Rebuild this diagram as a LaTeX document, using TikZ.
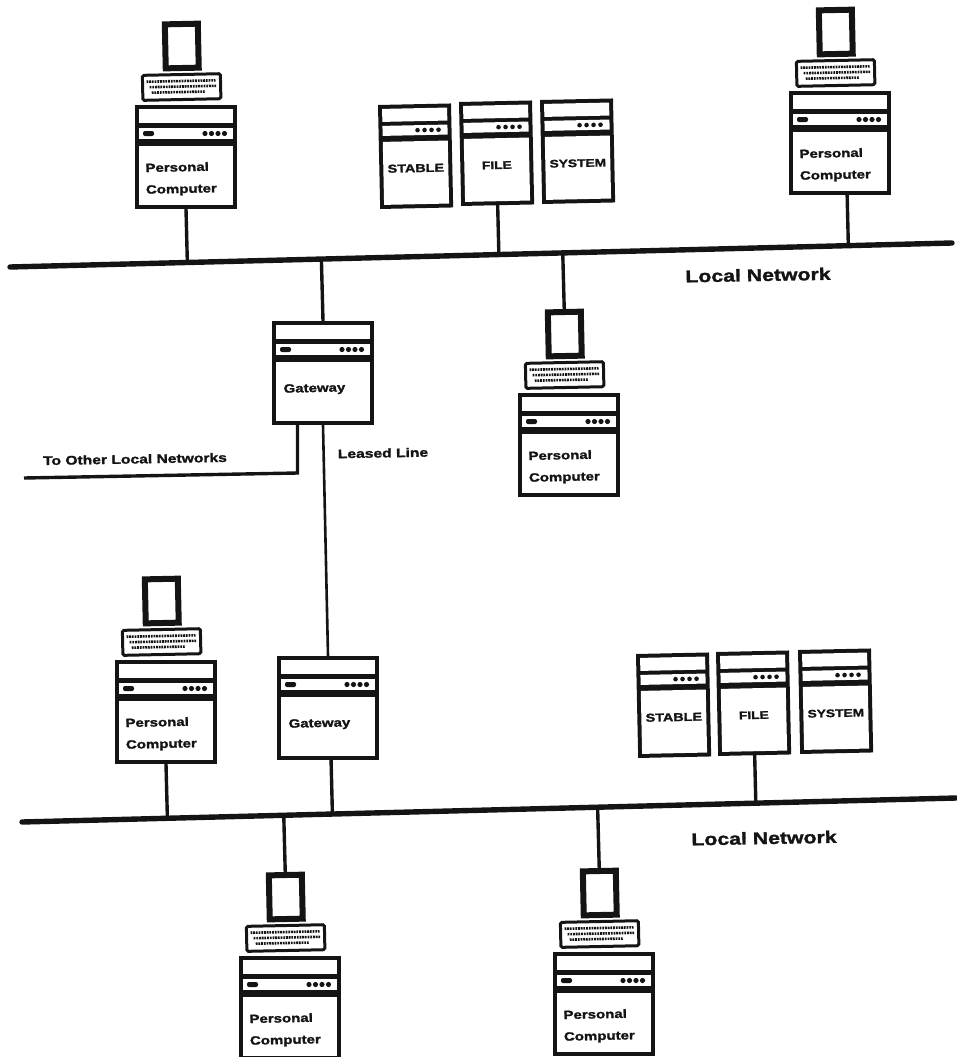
\documentclass[tikz,border=0pt]{standalone}
\usepackage{fontspec}
\usetikzlibrary{calc}
\setmainfont{Liberation Sans}
\newfontfamily\lblfont[FakeStretch=1.25,BoldFont={* Bold},BoldFeatures={FakeBold=1.6}]{Liberation Sans}
\newcommand{\lblsize}[1]{\fontsize{#1}{#1}\lblfont\bfseries}
\tikzset{
  x=1pt,y=-1pt,
  ink/.style={fill=black!92},
  panel/.style={fill=white},
  wire/.style={draw=black!92,line width=3.4pt},
  thinwire/.style={draw=black!92,line width=2.6pt},
  netline/.style={draw=black!92,line width=5.4pt,line cap=round},
  lbl/.style={inner sep=0pt,text=black!92,transform shape,font=\lblsize{#1}},
  caselabel/.style={lbl=12,anchor=west},
  freelabel/.style={inner sep=0pt,text=black!92,rotate=1,font=\lblsize{#1}},
  casebody/.style={rectangle,fill=black!92,inner sep=0pt,outer sep=0pt,anchor=north west,transform shape,minimum width=#1,minimum height=104},
  pics/frontunit/.style={code={
    \node[casebody=102] (base) at (0,0) {};
    \fill[panel] (4,4) rectangle (98,18);
    \fill[panel] (4,23) rectangle (98,34);
    \fill[panel] (4,41) rectangle (98,100);
    \fill[ink,rounded corners=2pt] (8,26) rectangle (19,31);
    \foreach \d in {70,76.5,83,89.5} \fill[ink] (\d,28.5) circle (2.6);
  }},
  pics/pcunit/.style={code={
    \pic {frontunit};
    \node[caselabel] at (9,63) {Personal};
    \node[caselabel] at (9,86) {Computer};
    \node[rectangle,draw=black!92,line width=6pt,fill=white,inner sep=0pt,outer sep=0pt,transform shape,minimum width=33,minimum height=44] (mon) at (48,-58) {};
    \node[rectangle,draw=black!92,line width=3pt,fill=white,rounded corners=1.5pt,inner sep=0pt,transform shape,minimum width=78,minimum height=25] (kbd) at (47,-17) {};
    \draw[black!92,line width=2.6pt,dash pattern=on 1.8pt off 0.9pt] (12,-23) -- (81,-23);
    \draw[black!92,line width=2.6pt,dash pattern=on 1.8pt off 0.9pt] (15,-17.5) -- (82,-17.5);
    \draw[black!92,line width=2.6pt,dash pattern=on 1.8pt off 0.9pt] (17,-12) -- (70,-12);
  }},
  pics/gateunit/.style={code={
    \pic {frontunit};
    \node[caselabel] at (10,69) {Gateway};
  }},
  pics/serverunit/.style={code={
    \node[casebody=73] (base) at (0,0) {};
    \fill[panel] (4,4) rectangle (69,17);
    \fill[panel] (4,21) rectangle (69,31);
    \fill[panel] (4,37) rectangle (69,100);
    \foreach \d in {39,46,53,60} \fill[ink] (\d,26) circle (2.3);
    \node[lbl=#1] at (36.5,64) {\serverword};
  }},
}
\newcommand{\serverword}{}
\begin{document}
\begin{tikzpicture}
\useasboundingbox (0,0) rectangle (956,1057);
% Networks
\coordinate (naL) at (10,267);
\coordinate (naR) at (952,243);
\coordinate (nbL) at (22,822);
\coordinate (nbR) at (956,798);
\draw[netline] (naL) -- (naR);
\draw[netline] (nbL) -- (nbR);
% Personal computers
\pic[rotate=1.2] (pa) at (135,105) {pcunit};
\pic[rotate=1.2] (pb) at (789,91) {pcunit};
\pic[rotate=1.2] (pc) at (518,393) {pcunit};
\pic[rotate=1.2] (pd) at (115,660) {pcunit};
\pic[rotate=1.2] (pe) at (239,956) {pcunit};
\pic[rotate=1.2] (pf) at (553,952) {pcunit};
% Gateways
\pic[rotate=1.2] (ga) at (272,321) {gateunit};
\pic[rotate=1.2] (gb) at (277,656) {gateunit};
% Servers
\renewcommand{\serverword}{STABLE}
\pic[rotate=1.2] (sa) at (378,105) {serverunit=11.5};
\pic[rotate=1.2] (sd) at (636,654) {serverunit=11.5};
\renewcommand{\serverword}{FILE}
\pic[rotate=1.2] (sb) at (459,102) {serverunit=11};
\pic[rotate=1.2] (se) at (716,652) {serverunit=11};
\renewcommand{\serverword}{SYSTEM}
\pic[rotate=1.2] (sc) at (540,100) {serverunit=11};
\pic[rotate=1.2] (sf) at (798,650) {serverunit=11};
% Connectors
\coordinate (pbfoot) at ($(pbbase.south west)!.57!(pbbase.south east)$);
\coordinate (gbfoot) at ($(gbbase.south west)!.53!(gbbase.south east)$);
\draw[wire] (pabase.south) -- ($(naL)!(pabase.south)!(naR)$);
\draw[wire] (sbbase.south) -- ($(naL)!(sbbase.south)!(naR)$);
\draw[wire] (pbfoot) -- ($(naL)!(pbfoot)!(naR)$);
\draw[wire] (gabase.north) -- ($(naL)!(gabase.north)!(naR)$);
\draw[wire] (pcmon.north) -- ($(naL)!(pcmon.north)!(naR)$);
\draw[wire] (pdbase.south) -- ($(nbL)!(pdbase.south)!(nbR)$);
\draw[wire] (gbfoot) -- ($(nbL)!(gbfoot)!(nbR)$);
\draw[wire] (sebase.south) -- ($(nbL)!(sebase.south)!(nbR)$);
\draw[wire] (pemon.north) -- ($(nbL)!(pemon.north)!(nbR)$);
\draw[wire] (pfmon.north) -- ($(nbL)!(pfmon.north)!(nbR)$);
\draw[thinwire] (gabase.south) -- (gbbase.north);
\coordinate (otherEnd) at (24,478);
\draw[wire,line join=miter] ($(gabase.south west)!.25!(gabase.south east)$) -- ++(0,48) -- (otherEnd);
% Labels
\node[freelabel=17] (la) at (758,275) {Local Network};
\node[freelabel=17] (lb) at (764,838) {Local Network};
\node[freelabel=12.5] (lc) at (135,459) {To Other Local Networks};
\node[freelabel=12.5] (ld) at (383,453) {Leased Line};
\end{tikzpicture}
\end{document}
